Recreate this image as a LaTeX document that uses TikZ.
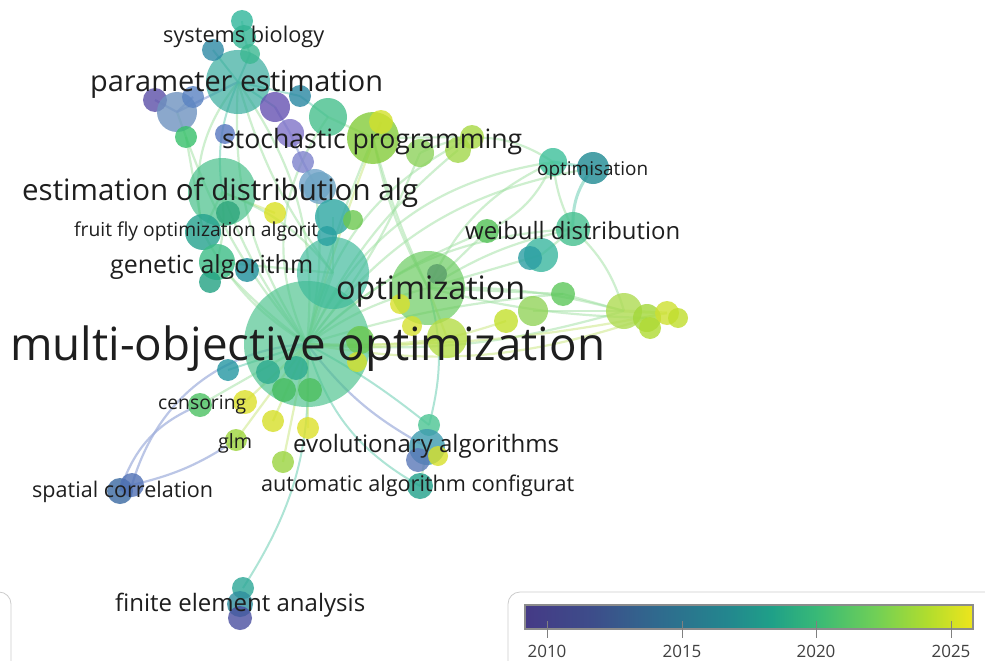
\documentclass[tikz,border=0pt]{standalone}
\usepackage{fontspec}
\setmainfont{Open Sans}
\usepackage{graphicx}
\pgfdeclarelayer{bg}
\pgfdeclarelayer{paper}
\pgfsetlayers{paper,bg,main}
\definecolor{TextC}{HTML}{1E1E1E}
\definecolor{EdgeG}{HTML}{9EE0A0}
\definecolor{EdgeY}{HTML}{C8E67A}
\definecolor{EdgeB}{HTML}{9FAEDC}
\definecolor{EdgeT}{HTML}{8CD9C4}
\definecolor{vA}{HTML}{453A86}
\definecolor{vB}{HTML}{3D4D8A}
\definecolor{vC}{HTML}{2F6B8E}
\definecolor{vD}{HTML}{23868E}
\definecolor{vE}{HTML}{1FA088}
\definecolor{vF}{HTML}{38B977}
\definecolor{vG}{HTML}{6FCF57}
\definecolor{vH}{HTML}{B2DD2D}
\definecolor{vI}{HTML}{EEE51C}
\pgfdeclarehorizontalshading{viridis}{100bp}{color(0bp)=(vA); color(25bp)=(vA); color(32.5bp)=(vB); color(40bp)=(vC); color(47.5bp)=(vD); color(52.5bp)=(vE); color(57.5bp)=(vF); color(64bp)=(vG); color(70bp)=(vH); color(75bp)=(vI); color(100bp)=(vI)}
\newcommand\bb[5]{\definecolor{tmpc}{HTML}{#5}\node[bub, minimum size=2*#4pt, fill=tmpc] (#1) at (#2,#3) {};}
\newcommand\bB[5]{\definecolor{tmpc}{HTML}{#5}\node[bub, fill opacity=0.68, minimum size=2*#4pt, fill=tmpc] (#1) at (#2,#3) {};}
\newcommand\lbl[2]{\resizebox{#1pt}{!}{\fontsize{20}{24}\selectfont #2}}
\tikzset{
  bub/.style={circle, inner sep=0pt, draw=none, fill opacity=0.8},
  eg/.style={draw=EdgeG, line width=2.2pt, draw opacity=0.5},
  ey/.style={draw=EdgeY, line width=2.2pt, draw opacity=0.5},
  eb/.style={draw=EdgeB, line width=2.2pt, draw opacity=0.7},
  et/.style={draw=EdgeT, line width=2pt, draw opacity=0.7},
  lab/.style={inner sep=0pt, text=TextC, anchor=base west},
  yr/.style={inner sep=0pt, text=black!75, anchor=base, font=\fontsize{17}{20}\selectfont},
  panel/.style={draw=black!20, line width=0.8pt, rounded corners=12pt, fill=white},
}
\begin{document}
\begin{tikzpicture}[x=1pt,y=-1pt]
\begin{pgfonlayer}{paper}
\fill[white] (0,0) rectangle (985,661);
\end{pgfonlayer}
\useasboundingbox (0,0) rectangle (985,661);
% ---------- bubbles ----------
\bB{mo}{307}{344}{63}{4DC38E}
\bB{tq}{333}{273}{36}{3BB99A}
\bB{op}{428}{288}{37}{67CA5C}
\bB{pe}{238}{82}{32}{30A99A}
\bB{ed}{222}{192}{34}{40BD86}
\bb{sp}{373}{138}{26}{84CC3A}
% top cluster
\bb{sb1}{242}{21}{11}{2FB69A}
\bb{sb2}{244}{37}{12}{33B494}
\bb{sb3}{250}{54}{10}{3BB891}
\bb{sbB}{213}{50}{11}{2D8AA5}
\bb{pu1}{155}{100}{12}{5C4FA8}
\bb{st1}{177}{112}{20}{6E93C0}
\bb{bl1}{193}{97}{11}{5A83C2}
\bb{pu2}{275}{107}{15}{6652B2}
\bb{tb1}{300}{96}{11}{2987A2}
\bb{tg1}{328}{117}{19}{46C08C}
\bb{lv1}{290}{133}{14}{8074C8}
\bb{gr1}{186}{137}{11}{36C06A}
\bb{bl2}{225}{134}{10}{5777C0}
\bb{lv2}{303}{162}{11}{7E82CC}
\bb{st2}{315}{185}{16}{6FA2C8}
% stochastic programming
\bb{sy1}{381}{122}{12}{D2E02C}
\bb{sp2}{420}{153}{14}{8ED35C}
\bb{sp3}{458}{150}{13}{A2D84A}
\bb{sp4}{472}{137}{12}{A8D944}
% optimisation / weibull
\bb{om1}{553}{162}{14}{3CC09A}
\bb{om2}{593}{168}{16}{1E8A93}
\bb{wb1}{573}{229}{17}{45C08F}
\bb{wb2}{541}{255}{17}{3AB79F}
\bb{wb3}{530}{258}{12}{2B9EA3}
\bb{wg}{487}{231}{12}{52C156}
% optimization cluster
\bb{opd}{437}{274}{10}{5A9E6A}
\bb{oy}{400}{304}{10}{D9E02C}
\bb{ly1}{447}{338}{20}{B5DC45}
\bb{ly2}{412}{326}{10}{D5E030}
\bb{rg1}{563}{294}{12}{5DC75B}
\bb{rg2}{533}{311}{15}{93D45A}
\bb{ry1}{506}{321}{12}{C4E02C}
\bb{ry2}{624}{311}{18}{AEDB52}
\bb{ry3}{647}{318}{14}{A3D83A}
\bb{ry4}{667}{313}{12}{CEE030}
\bb{ry5}{678}{318}{10}{C0DE2C}
\bb{ry6}{650}{328}{11}{B0DB33}
% around multi-objective
\bb{m1}{268}{372}{12}{2DAA8E}
\bb{m2}{296}{368}{12}{2CAA90}
\bb{m3}{284}{390}{12}{45BC60}
\bb{m4}{310}{390}{12}{4CBF5E}
\bb{m5}{360}{340}{14}{6AC74E}
\bb{m6}{357}{362}{10}{D3DF2A}
\bb{m7}{228}{370}{11}{2596A2}
\bb{cs1}{245}{402}{12}{DCE02A}
\bb{cs2}{200}{405}{12}{4BC162}
\bb{y1}{273}{421}{11}{D6DF28}
\bb{y2}{308}{428}{11}{DDE02A}
\bb{gl}{236}{440}{11}{9DD53C}
\bb{lg}{283}{462}{11}{9AD440}
% genetic / fruit fly
\bb{ff1}{203}{232}{18}{24A28E}
\bb{ga1}{217}{262}{18}{3CBD86}
\bb{ga2}{247}{270}{12}{1D8E9A}
\bb{ga3}{210}{282}{11}{22A282}
\bb{fy}{275}{213}{11}{DAE022}
\bb{ed2}{228}{213}{12}{2EA67C}
\bb{eb1}{320}{188}{16}{6FA6C4}
\bb{et1}{333}{217}{18}{2CA7A2}
\bb{eg1}{353}{220}{10}{6CC84F}
\bb{et2}{327}{236}{10}{27A0A0}
% evolutionary
\bb{ev1}{429}{425}{11}{4CC593}
\bb{ev2}{427}{447}{18}{3D9BB0}
\bb{ev3}{418}{460}{12}{5A78B8}
\bb{ev4}{438}{456}{10}{D8E02A}
\bb{ev5}{420}{486}{13}{20A08A}
% spatial correlation
\bb{sc1}{120}{491}{13}{3A6AA2}
\bb{sc2}{132}{485}{12}{4F70B5}
% finite element
\bb{fe1}{243}{588}{11}{2CA797}
\bb{fe2}{240}{604}{13}{2E8E9E}
\bb{fe3}{240}{618}{12}{4A4FA0}
% ---------- edges ----------
\begin{pgfonlayer}{bg}
\draw[eg] (mo.center) to[bend left=10] (op.center);
\draw[eg] (mo.center) to[bend left=5] (sp.center);
\draw[ey] (mo.center) to[bend left=3] (sy1.center);
\draw[eg] (mo.center) to[bend right=8] (sp2.center);
\draw[eg] (mo.center) to[bend left=12] (sp3.center);
\draw[eg] (mo.center) to[bend left=8] (ed.center);
\draw[eg] (mo.center) to[bend left=18] (pe.center);
\draw[eg] (mo.center) to[bend right=20] (pe.center);
\draw[eg] (mo.center) -- (tq.center);
\draw[eg] (mo.center) to[bend left=15] (ff1.center);
\draw[eg] (mo.center) to[bend left=5] (ga1.center);
\draw[eg] (mo.center) to[bend left=20] (wb1.center);
\draw[eg] (mo.center) to[bend left=28] (om1.center);
\draw[eg] (mo.center) to[bend left=22] (om2.center);
\draw[eg] (mo.center) to[bend right=10] (ry2.center);
\draw[ey] (mo.center) to[bend right=6] (ry4.center);
\draw[ey] (mo.center) to[bend right=14] (ry3.center);
\draw[eg] (mo.center) to[bend left=6] (rg1.center);
\draw[ey] (mo.center) to[bend right=12] (ry1.center);
\draw[ey] (mo.center) to[bend right=5] (ly1.center);
\draw[eg] (mo.center) to[bend left=10] (wg.center);
\draw[eg] (mo.center) to[bend left=25] (sp4.center);
\draw[eg] (mo.center) to[bend left=10] (gr1.center);
\draw[eg] (mo.center) to[bend right=10] (st2.center);
\draw[eg] (mo.center) to[bend left=30] (tg1.center);
\draw[eb] (mo.center) to[bend right=35] (sc2.center);
\draw[eb] (cs2.center) to[bend right=25] (sc1.center);
\draw[eb] (gl.center) to[bend left=10] (sc2.center);
\draw[et] (mo.center) to[bend left=18] (fe1.center);
\draw[eb] (mo.center) to[bend right=12] (ev2.center);
\draw[et] (mo.center) to[bend right=22] (ev5.center);
\draw[et] (mo.center) to[bend left=5] (ev1.center);
\draw[ey] (mo.center) -- (lg.center);
\draw[ey] (mo.center) -- (y1.center);
\draw[ey] (mo.center) -- (y2.center);
\draw[ey] (mo.center) -- (gl.center);
\draw[ey] (mo.center) -- (cs1.center);
\draw[eg] (mo.center) -- (cs2.center);
\draw[et] (mo.center) -- (m7.center);
\draw[et] (op.center) to[bend left=15] (ev1.center);
\draw[eg] (op.center) to[bend left=10] (wb1.center);
\draw[eg] (op.center) to[bend left=20] (om1.center);
\draw[eg] (op.center) -- (wb2.center);
\draw[eg] (op.center) to[bend left=8] (ry2.center);
\draw[eg] (op.center) to[bend right=6] (ry3.center);
\draw[eg] (op.center) -- (rg1.center);
\draw[eg] (op.center) to[bend left=8] (sp.center);
\draw[eg] (op.center) -- (wg.center);
\draw[ey] (op.center) -- (ly1.center);
\draw[et, line width=3pt] (om1.center) -- (om2.center);
\draw[et, line width=3pt] (om2.center) to[bend right=20] (wb1.center);
\draw[eg] (om1.center) to[bend right=10] (wb1.center);
\draw[eg] (om1.center) to[bend right=30] (sp2.center);
\draw[eg] (om1.center) to[bend left=20] (wg.center);
\draw[eg] (wb1.center) -- (wb2.center);
\draw[eg] (wb1.center) to[bend left=15] (ry2.center);
\draw[ey, line width=3pt] (ry2.center) -- (ry4.center);
\draw[eg] (rg2.center) -- (ry2.center);
\draw[eg] (rg1.center) -- (ry2.center);
\draw[eg] (sp.center) -- (sp4.center);
\draw[eg] (sp.center) to[bend right=5] (op.center);
\draw[eg] (st1.center) -- (gr1.center);
\draw[eg] (gr1.center) -- (ff1.center);
\draw[eg] (pe.center) to[bend right=10] (tq.center);
\draw[eg] (pe.center) to[bend right=25] (ff1.center);
\draw[eg] (ed.center) -- (ff1.center);
\draw[eg] (ed.center) to[bend left=10] (ga1.center);
\draw[ey] (ed.center) -- (fy.center);
\draw[eg] (tq.center) -- (et1.center);
\draw[eg] (ed.center) to[bend left=15] (tq.center);
\draw[eb] (lv1.center) -- (lv2.center);
\draw[eb] (lv2.center) -- (st2.center);
\draw[eb] (pu2.center) -- (lv1.center);
\draw[et] (pe.center) -- (pu2.center);
\draw[et] (pe.center) -- (tb1.center);
\draw[et] (tb1.center) -- (tg1.center);
\draw[eg] (tg1.center) -- (sp.center);
\draw[eb] (pe.center) -- (st1.center);
\draw[eb] (st1.center) -- (pu1.center);
\draw[eb] (bl1.center) -- (st1.center);
\draw[et] (sb3.center) -- (pe.center);
\draw[et] (sbB.center) -- (pe.center);
\draw[et] (sb1.center) -- (sb2.center);
\draw[et] (sb2.center) -- (sb3.center);
\draw[et] (pe.center) to[bend right=15] (ed.center);
\draw[eg] (ga1.center) -- (tq.center);
\draw[eg] (ev2.center) -- (ev5.center);
\end{pgfonlayer}
% ---------- labels ----------
\node[lab] (tSB) at (163,43) {\lbl{161}{systems biology}};
\node[lab] (tPE) at (90,92) {\lbl{293}{parameter estimation}};
\node[lab] (tSP) at (222,148) {\lbl{300}{stochastic programming}};
\node[lab] (tED) at (22,200) {\lbl{396}{estimation of distribution alg}};
\node[lab] (tOM) at (537,175) {\lbl{111}{optimisation}};
\node[lab] (tFF) at (74,236) {\lbl{244}{fruit fly optimization algorit}};
\node[lab] (tWB) at (465,239) {\lbl{215}{weibull distribution}};
\node[lab] (tGA) at (110,273) {\lbl{203}{genetic algorithm}};
\node[lab] (tOP) at (336,299) {\lbl{189}{optimization}};
\node[lab] (tMO) at (10,360) {\lbl{595}{multi-objective optimization}};
\node[lab] (tCS) at (158,409) {\lbl{88}{censoring}};
\node[lab] (tGL) at (218,448) {\lbl{34}{glm}};
\node[lab] (tEV) at (293,452) {\lbl{266}{evolutionary algorithms}};
\node[lab] (tSC) at (32,497) {\lbl{181}{spatial correlation}};
\node[lab] (tAA) at (261,491) {\lbl{313}{automatic algorithm configurat}};
\node[lab] (tFE) at (115,611) {\lbl{250}{finite element analysis}};
% ---------- legend panels ----------
\draw[panel] (-30,592) rectangle (11,700);
\draw[panel] (508,592) rectangle (1000,700);
\shade[shading=viridis] (525,605) rectangle (973,629);
\draw[black!45, line width=1.2pt] (525,605) rectangle (973,629);
\coordinate (k1) at (547,621);
\coordinate (k2) at (682,621);
\coordinate (k3) at (816,621);
\coordinate (k4) at (951,621);
\foreach \k in {k1,k2,k3,k4} { \draw[black!50, line width=0.9pt] (\k) -- ++(0,17); }
\node[yr] (y2010) at (547,657) {2010};
\node[yr] (y2015) at (682,657) {2015};
\node[yr] (y2020) at (816,657) {2020};
\node[yr] (y2025) at (951,657) {2025};
\end{tikzpicture}
\end{document}
